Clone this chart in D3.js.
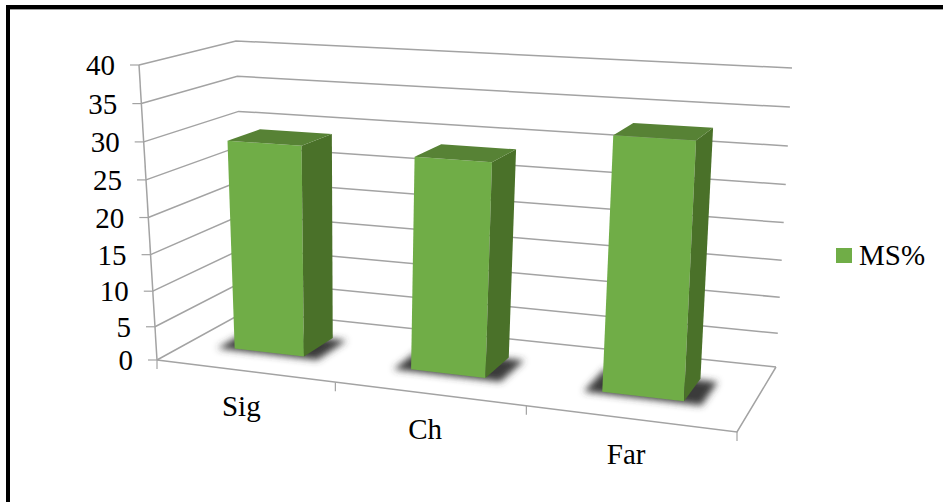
<!DOCTYPE html>
<html>
<head>
<meta charset="utf-8">
<script src="https://cdn.jsdelivr.net/npm/d3@7/dist/d3.min.js"></script>
<style>
  html, body { margin: 0; padding: 0; background: #fff; }
  svg { display: block; }
  text { font-family: "Liberation Serif", "Times New Roman", serif; font-size: 29px; fill: #000; }
</style>
</head>
<body>
<svg id="chart" width="943" height="502"></svg>
<script>
// Chart values
const categories = ["Sig", "Ch", "Far"];
const seriesName = "MS%";
const seriesValues = [29.2, 28.8, 33.2];
const yTicks = [0, 5, 10, 15, 20, 25, 30, 35, 40];

const svg = d3.select("#chart");

// Corners of the 3D plot box on screen: floor and ceiling (front-left, front-right, back-right, back-left)
const floorQuad = [[157, 360], [737, 432], [776, 367], [246, 311]];
const ceilQuad = [[139, 65], [751, 98], [792, 68], [236, 41]];

// Projective map from the unit square onto a screen quadrilateral
function quadMap(q) {
  const [[x0, y0], [x1, y1], [x2, y2], [x3, y3]] = q;
  const dx1 = x1 - x2, dx2 = x3 - x2, sx = x0 - x1 + x2 - x3;
  const dy1 = y1 - y2, dy2 = y3 - y2, sy = y0 - y1 + y2 - y3;
  const det = dx1 * dy2 - dx2 * dy1;
  const g = (sx * dy2 - dx2 * sy) / det;
  const h = (dx1 * sy - sx * dy1) / det;
  const a = x1 - x0 + g * x1, b = x3 - x0 + h * x3;
  const d = y1 - y0 + g * y1, e = y3 - y0 + h * y3;
  return (u, w) => {
    const k = g * u + h * w + 1;
    return [(a * u + b * w + x0) / k, (d * u + e * w + y0) / k];
  };
}
const floorMap = quadMap(floorQuad);
const ceilMap = quadMap(ceilQuad);

// Height fraction along a vertical edge; slightly compressed near the floor by perspective
const yScale = d3.scalePow().exponent(1.05).domain([0, 40]).range([0, 1]);
// Position along the front edge, with a small perspective correction
const uScale = d3.scalePow().exponent(0.97).domain([0, 1]).range([0, 1]);
const xBand = d3.scaleBand().domain(categories).range([-0.011, 0.995]).paddingInner(0.6).paddingOuter(0.3);
const depthBand = d3.scaleBand().domain([seriesName]).range([0.325, 0.685]);

function project(u, w, v) {
  const su = uScale(Math.max(0, u));
  const f = floorMap(su, w), c = ceilMap(su, w), t = yScale(v);
  return [f[0] + (c[0] - f[0]) * t, f[1] + (c[1] - f[1]) * t];
}

const pathOf = d3.line().curve(d3.curveLinearClosed);
const gridColor = "#A3A3A3";

// Soft contact shadow filter
const defs = svg.append("defs");
defs.append("filter").attr("id", "soft").attr("x", "-30%").attr("y", "-60%").attr("width", "160%").attr("height", "220%")
  .append("feGaussianBlur").attr("stdDeviation", 3.5);

svg.append("rect").attr("x", 6).attr("y", 5).attr("width", 4).attr("height", 497).attr("fill", "#000");
svg.append("rect").attr("x", 6).attr("y", 5).attr("width", 937).attr("height", 4).attr("fill", "#000");
svg.append("rect").attr("x", 10).attr("y", 9).attr("width", 933).attr("height", 0.8).attr("fill", "#888");

// Wall gridlines
const grid = svg.append("g").attr("fill", "none").attr("stroke", gridColor).attr("stroke-width", 1.5);
grid.selectAll("path.wall").data(yTicks).join("path").attr("class", "wall")
  .attr("d", v => d3.line()([project(0, 0, v), project(0, 1, v), project(1, 1, v)]));

// Floor outline and vertical axis
grid.append("path").attr("d", d3.line()([project(1, 1, 0), project(1, 0, 0), project(0, 0, 0)]));
grid.append("path").attr("d", d3.line()([project(0, 0, 0), project(0, 0, 40)]));

// Value axis ticks and labels
const yAxis = svg.append("g");
yAxis.selectAll("line").data(yTicks).join("line")
  .attr("x1", v => project(0, 0, v)[0] - 9).attr("x2", v => project(0, 0, v)[0])
  .attr("y1", v => project(0, 0, v)[1]).attr("y2", v => project(0, 0, v)[1])
  .attr("stroke", gridColor).attr("stroke-width", 1.2);
yAxis.selectAll("text").data(yTicks).join("text")
  .attr("text-anchor", "end")
  .attr("x", v => project(0, 0, v)[0] - 24)
  .attr("y", v => project(0, 0, v)[1] + 10)
  .text(v => v);

// Category axis ticks and labels
const uTicks = d3.range(categories.length + 1).map(i => i / categories.length);
const xAxis = svg.append("g");
xAxis.selectAll("line").data(uTicks).join("line")
  .attr("x1", u => project(u, 0, 0)[0]).attr("x2", u => project(u, 0, 0)[0])
  .attr("y1", u => project(u, 0, 0)[1]).attr("y2", u => project(u, 0, 0)[1] + 9)
  .attr("stroke", gridColor).attr("stroke-width", 1.2);
xAxis.selectAll("text").data(categories).join("text")
  .attr("text-anchor", "middle")
  .attr("x", c => project(xBand(c) + xBand.bandwidth() / 2, 0, 0)[0] + 1)
  .attr("y", c => project(xBand(c) + xBand.bandwidth() / 2, 0, 0)[1] + 46)
  .text(c => c);

// Bars: shadow first, then the three visible faces
const w0 = depthBand(seriesName), w1 = w0 + depthBand.bandwidth();
const bars = svg.append("g").selectAll("g").data(categories.map((c, i) => ({ c, v: seriesValues[i] }))).join("g");
bars.append("path")
  .attr("filter", "url(#soft)").attr("fill", "#3a3a3a")
  .attr("d", d => {
    const a = xBand(d.c) - 0.028, b = xBand(d.c) + xBand.bandwidth() + 0.03;
    return pathOf([project(a, w0 - 0.03, 0), project(b, w0 - 0.03, 0), project(b, w1 - 0.02, 0), project(a, w1 - 0.02, 0)]);
  });
function face(sel, color, corners) {
  sel.append("path").attr("fill", color).attr("d", d => {
    const a = xBand(d.c), b = a + xBand.bandwidth();
    return pathOf(corners(a, b, d.v));
  });
}
face(bars, "#70AD47", (a, b, v) => [project(a, w0, 0), project(b, w0, 0), project(b, w0, v), project(a, w0, v)]);
face(bars, "#4A7129", (a, b, v) => [project(b, w0, 0), project(b, w1, 0), project(b, w1, v), project(b, w0, v)]);
face(bars, "#578235", (a, b, v) => [project(a, w0, v), project(b, w0, v), project(b, w1, v), project(a, w1, v)]);

// Legend
const legend = svg.append("g");
legend.append("rect").attr("x", 836).attr("y", 248).attr("width", 16).attr("height", 15).attr("fill", "#70AD47");
legend.append("text").attr("x", 859).attr("y", 265).text(seriesName);
</script>
</body>
</html>
